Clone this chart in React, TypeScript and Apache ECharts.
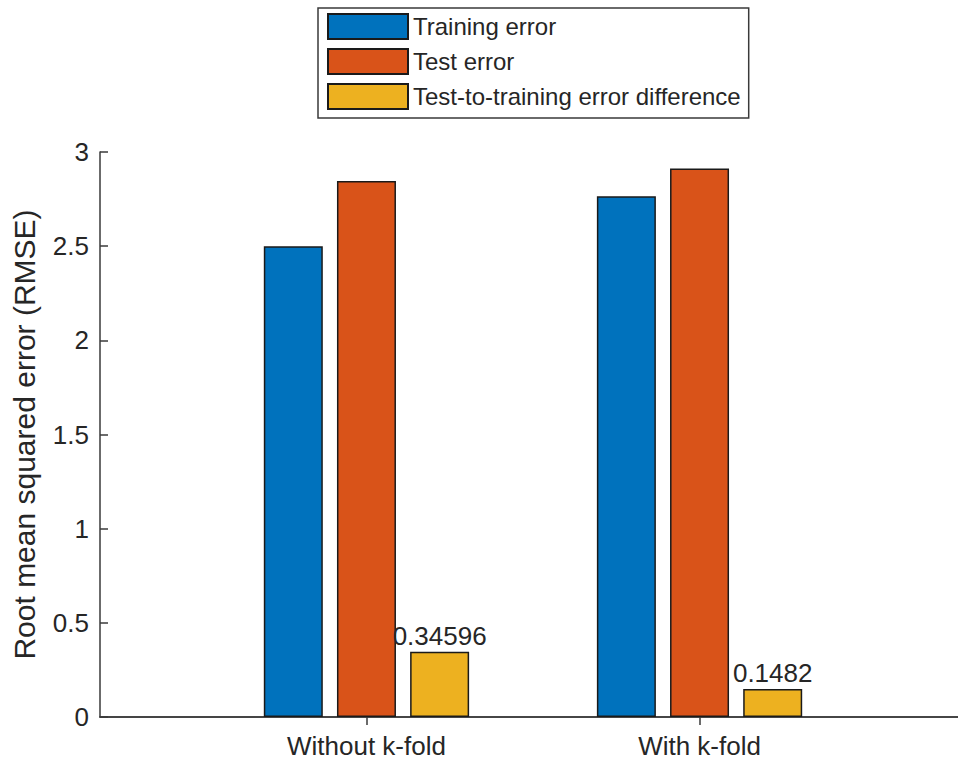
import React, { useEffect, useRef } from "react";
import * as echarts from "echarts";

const categories = ["Without k-fold", "With k-fold"];
const categoryPositions = [1, 2];
const trainingError = [2.5, 2.765];
const testError = [2.846, 2.913];
const errorDifference = [0.34596, 0.1482];
const seriesNames = ["Training error", "Test error", "Test-to-training error difference"];
const seriesColors = ["#0072BD", "#D95319", "#EDB120"];

const FONT = "'Liberation Sans', Arial, Helvetica, sans-serif";
const TEXT = "#262626";
const AXIS = "#3a3a3a";

export default function App() {
  const ref = useRef<HTMLDivElement>(null);

  useEffect(() => {
    if (!ref.current) return;
    const chart = echarts.init(ref.current, undefined, { renderer: "svg" });
    const allValues = [trainingError, testError, errorDifference];
    const series = allValues.map((vals, i) => ({
      name: seriesNames[i],
      type: "bar",
      xAxisIndex: 0,
      yAxisIndex: 0,
      data: vals.map((v, j) => [categoryPositions[j], v]),
      barWidth: 59,
      barGap: "24%",
      itemStyle: { color: seriesColors[i], borderColor: "#1a1a1a", borderWidth: 1.5 },
      label:
        i === 2
          ? {
              show: true,
              position: "top",
              distance: 3,
              fontSize: 26,
              fontFamily: FONT,
              color: TEXT,
              formatter: (p: any) => String(p.value[1]),
            }
          : { show: false },
      emphasis: { disabled: true },
    }));

    chart.setOption({
      animation: false,
      backgroundColor: "#ffffff",
      textStyle: { fontFamily: FONT },
      legend: {
        orient: "vertical",
        left: 318,
        top: 8,
        padding: [5, 8, 8, 9],
        itemWidth: 80,
        itemHeight: 25,
        itemGap: 8,
        icon: "rect",
        borderColor: AXIS,
        borderWidth: 1.5,
        backgroundColor: "#ffffff",
        textStyle: { fontSize: 24, lineHeight: 25, color: TEXT, fontFamily: FONT },
        data: seriesNames,
        selectedMode: false,
      },
      grid: { left: 100, top: 152, right: 14, bottom: 45, containLabel: false },
      xAxis: [
        {
          type: "value",
          min: 0.2,
          max: 2.8,
          position: "bottom",
          axisLine: { show: true, lineStyle: { color: AXIS, width: 1.5 } },
          axisTick: { show: true, inside: true, length: 8, customValues: categoryPositions, lineStyle: { color: AXIS, width: 1.5 } },
          axisLabel: {
            show: true,
            customValues: categoryPositions,
            margin: 16,
            fontSize: 26,
            color: TEXT,
            fontFamily: FONT,
            formatter: (v: number) => categories[Math.round(v) - 1] ?? "",
          },
          splitLine: { show: false },
        },
        {
          type: "value",
          min: 0.2,
          max: 2.8,
          position: "top",
          axisLine: { show: true, lineStyle: { color: AXIS, width: 1.5 } },
          axisTick: { show: true, inside: true, length: 8, customValues: categoryPositions, lineStyle: { color: AXIS, width: 1.5 } },
          axisLabel: { show: false },
          splitLine: { show: false },
        },
      ],
      yAxis: [
        {
          type: "value",
          min: 0,
          max: 3,
          interval: 0.5,
          position: "left",
          name: "Root mean squared error (RMSE)",
          nameLocation: "middle",
          nameGap: 61,
          nameTextStyle: { fontSize: 30, color: TEXT, fontFamily: FONT },
          axisLine: { show: true, lineStyle: { color: AXIS, width: 1.5 } },
          axisTick: { show: true, inside: true, length: 8, lineStyle: { color: AXIS, width: 1.5 } },
          axisLabel: { margin: 11, fontSize: 26, color: TEXT, fontFamily: FONT },
          splitLine: { show: false },
        },
        {
          type: "value",
          min: 0,
          max: 3,
          interval: 0.5,
          position: "right",
          axisLine: { show: true, lineStyle: { color: AXIS, width: 1.5 } },
          axisTick: { show: true, inside: true, length: 8, lineStyle: { color: AXIS, width: 1.5 } },
          axisLabel: { show: false },
          splitLine: { show: false },
        },
      ],
      series,
    });

    return () => chart.dispose();
  }, []);

  return (
    <div
      style={{ position: "absolute", left: 0, top: 0, width: 958, height: 762, overflow: "hidden", background: "#fff" }}
    >
      <div ref={ref} style={{ width: 980, height: 762 }} />
    </div>
  );
}
